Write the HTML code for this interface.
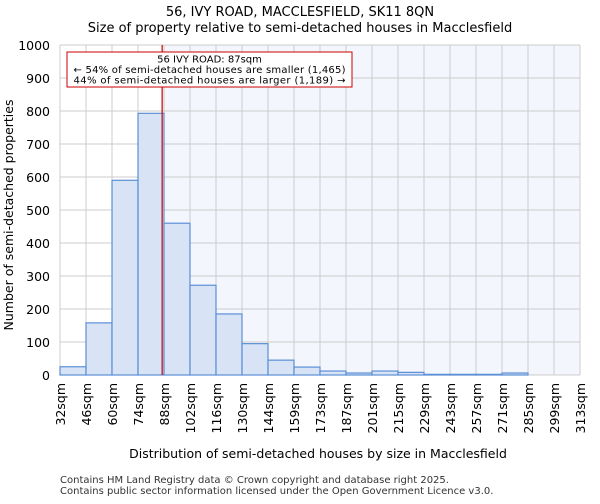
<!DOCTYPE html>
<html><head><meta charset="utf-8"><style>
body{margin:0;background:#fff;font-family:"DejaVu Sans","Liberation Sans",sans-serif}
</style></head><body>
<svg id="c" width="600" height="500" xmlns="http://www.w3.org/2000/svg" font-family="DejaVu Sans, Liberation Sans, sans-serif">
<text x="300" y="16" text-anchor="middle" font-size="13">56, IVY ROAD, MACCLESFIELD, SK11 8QN</text>
<text x="300" y="32" text-anchor="middle" font-size="13">Size of property relative to semi-detached houses in Macclesfield</text>
<g id="plot"></g>
<text x="318" y="458" text-anchor="middle" font-size="12.5">Distribution of semi-detached houses by size in Macclesfield</text>
<text transform="translate(13,215) rotate(-90)" text-anchor="middle" font-size="12.5">Number of semi-detached properties</text>
<text x="60" y="483" font-size="10" fill="#333">Contains HM Land Registry data © Crown copyright and database right 2025.</text>
<text x="60" y="494" font-size="10" fill="#333">Contains public sector information licensed under the Open Government Licence v3.0.</text>
</svg>
<script>
const tickLabels=["32sqm","46sqm","60sqm","74sqm","88sqm","102sqm","116sqm","130sqm","144sqm","159sqm","173sqm","187sqm","201sqm","215sqm","229sqm","243sqm","257sqm","271sqm","285sqm","299sqm","313sqm"];
const counts=[25,158,590,793,460,272,185,95,45,24,12,6,12,8,2,2,2,6,0,0];
const yTicks=[0,100,200,300,400,500,600,700,800,900,1000];
const propertySize=87;
const binStart=32, binWidth=14;
const L=60,R=580,T=45,B=375,yMax=1000;
const n=counts.length, bw=(R-L)/n;
const xs=v=>L+(v-binStart)/binWidth*bw;
const ys=v=>B-(v/yMax)*(B-T);
const ns="http://www.w3.org/2000/svg";
const g=document.getElementById('plot');
function mk(t,a){const e=document.createElementNS(ns,t);for(const k in a)e.setAttribute(k,a[k]);g.appendChild(e);return e;}
const px=xs(propertySize);
let e=mk('rect',{x:L,y:T,width:R-L,height:B-T,fill:'#fff'});


e=mk('rect',{x:px,y:T,width:R-px,height:B-T,fill:'#f3f6fd'});


yTicks.forEach(v=>{
 let l=mk('line',{x1:L,x2:R,y1:ys(v),y2:ys(v),stroke:'#ccc','stroke-width':1});
 
 
 let t=mk('text',{x:L-10,y:ys(v)+5,'text-anchor':'end','font-size':12.5});
 t.textContent=v;
 
 
});
tickLabels.forEach((s,i)=>{
 const x=L+i*bw;
 let l=mk('line',{x1:x,x2:x,y1:T,y2:B,stroke:'#ccc','stroke-width':1});
 
 
 let t=mk('text',{transform:`translate(${x+5},${B+8}) rotate(-90)`,'text-anchor':'end','font-size':12.5});
 t.textContent=s;
 
 
});
counts.forEach((v,i)=>{
 let r=mk('rect',{x:L+i*bw,y:ys(v),width:bw,height:B-ys(v),fill:'#d8e3f5',stroke:'#5b8fd6','stroke-width':1.2});
 
 
});
e=mk('line',{x1:px,x2:px,y1:T,y2:B,stroke:'#cc0000','stroke-width':1.2});


e=mk('rect',{x:67,y:52,width:285,height:35,fill:'#fff',stroke:'#cc0000','stroke-width':1});


["56 IVY ROAD: 87sqm","← 54% of semi-detached houses are smaller (1,465)","44% of semi-detached houses are larger (1,189) →"].forEach((s,i)=>{
 let t=mk('text',{x:209.5,y:62.5+i*10.5,'text-anchor':'middle','font-size':10,textLength:i?272:0});
 if(!i)t.removeAttribute('textLength');
 t.textContent=s;
 
 
});
</script>
</body></html>
